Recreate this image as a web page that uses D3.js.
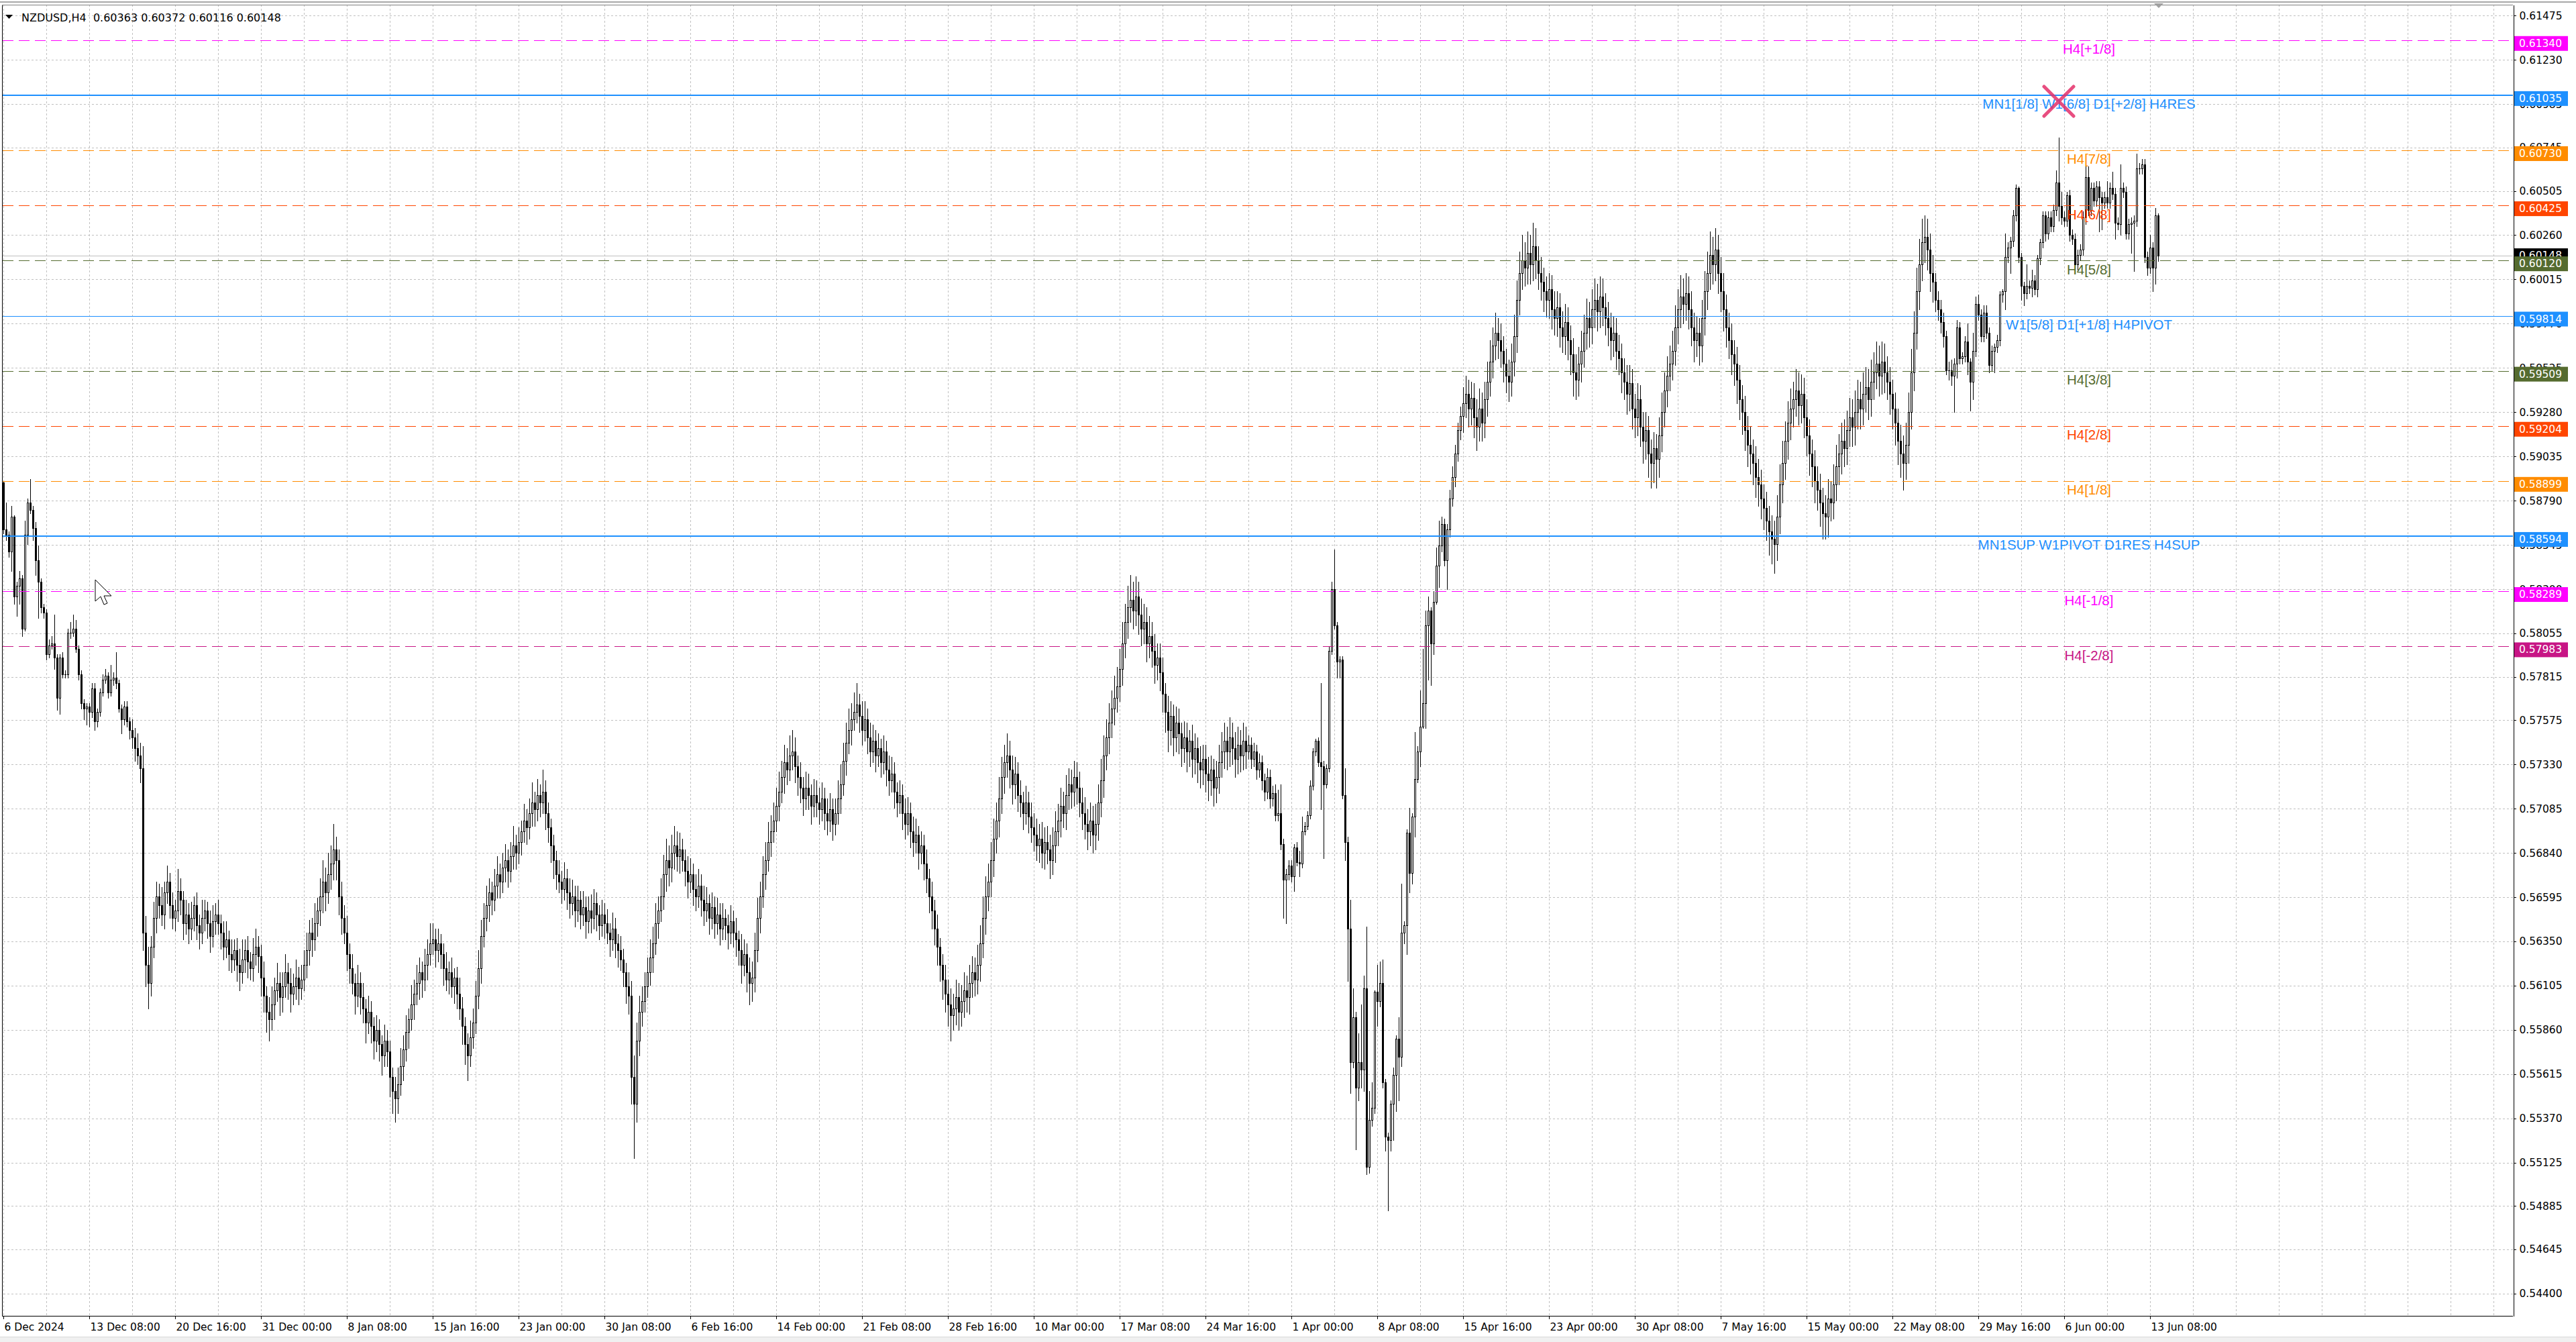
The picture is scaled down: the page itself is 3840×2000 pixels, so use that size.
<!DOCTYPE html>
<html><head><meta charset="utf-8">
<script src="https://cdn.jsdelivr.net/npm/d3@7/dist/d3.min.js"></script>
<style>html,body{margin:0;padding:0;background:#fff;}svg{display:block;}</style>
</head><body>
<svg id="chart" width="3840" height="2000"></svg>
<script>
// ---------------- DATA ----------------
const symbolTitle = "NZDUSD,H4";
const headerValues = ["0.60363", "0.60372", "0.60116", "0.60148"];
const firstOpen = 5889; // pips (x 1e-4)
// H4 closes in pips, one row = 16 bars
const closes = [
5863,5860,5851,5870,5826,5832,5836,5808,5860,5878,5874,5864,5846,5834,5820,5817,
5794,5799,5800,5792,5770,5792,5783,5783,5806,5806,5808,5797,5783,5767,5764,5765,
5762,5775,5757,5762,5773,5780,5782,5773,5780,5781,5778,5764,5758,5765,5757,5752,
5748,5742,5738,5731,5640,5622,5612,5632,5648,5660,5655,5650,5662,5668,5655,5648,
5652,5663,5658,5645,5650,5642,5648,5655,5644,5640,5648,5652,5645,5638,5646,5650,
5645,5640,5632,5636,5628,5625,5630,5622,5618,5625,5630,5624,5620,5628,5632,5627,
5615,5605,5596,5592,5600,5608,5612,5604,5610,5618,5612,5606,5610,5615,5609,5614,
5622,5630,5640,5636,5645,5652,5660,5668,5662,5672,5678,5686,5680,5660,5648,5640,
5628,5620,5612,5605,5612,5604,5598,5590,5596,5588,5580,5586,5578,5572,5580,5574,
5560,5552,5548,5556,5566,5575,5585,5592,5600,5606,5612,5618,5614,5622,5628,5634,
5636,5630,5634,5628,5620,5614,5618,5610,5615,5606,5598,5588,5578,5572,5582,5590,
5605,5620,5638,5648,5655,5662,5658,5666,5672,5668,5676,5680,5674,5682,5688,5684,
5690,5696,5702,5698,5706,5712,5708,5716,5712,5718,5706,5698,5688,5680,5672,5668,
5664,5670,5662,5656,5660,5652,5658,5650,5654,5646,5652,5648,5656,5650,5644,5650,
5645,5640,5636,5642,5634,5630,5625,5618,5610,5605,5560,5545,5580,5596,5602,5610,
5618,5626,5634,5645,5652,5660,5672,5680,5676,5684,5688,5682,5686,5680,5674,5668,
5672,5664,5660,5666,5658,5652,5656,5648,5654,5645,5650,5642,5648,5644,5640,5646,
5640,5636,5630,5622,5628,5618,5612,5615,5630,5648,5660,5672,5680,5690,5696,5702,
5710,5718,5726,5734,5730,5738,5740,5732,5726,5720,5714,5720,5716,5710,5716,5712,
5708,5714,5706,5702,5708,5700,5706,5714,5722,5735,5745,5752,5758,5762,5766,5760,
5752,5758,5748,5740,5746,5738,5742,5734,5740,5730,5724,5728,5718,5712,5716,5706,
5700,5706,5696,5690,5694,5684,5688,5678,5670,5660,5652,5642,5632,5622,5614,5606,
5600,5594,5598,5604,5596,5602,5608,5604,5612,5618,5614,5622,5634,5648,5660,5668,
5680,5692,5702,5714,5726,5734,5738,5730,5722,5728,5716,5712,5706,5712,5704,5698,
5694,5688,5692,5684,5690,5686,5680,5688,5696,5702,5710,5706,5716,5722,5718,5726,
5720,5712,5706,5700,5696,5702,5694,5700,5712,5724,5738,5748,5756,5764,5770,5776,
5786,5800,5812,5820,5824,5818,5826,5816,5808,5812,5800,5804,5796,5788,5792,5784,
5772,5762,5752,5760,5748,5756,5750,5742,5748,5740,5746,5736,5742,5734,5730,5736,
5728,5724,5730,5720,5726,5734,5740,5746,5740,5748,5742,5736,5744,5738,5746,5740,
5744,5736,5740,5730,5734,5724,5718,5726,5714,5717,5705,5706,5689,5669,5672,5677,
5671,5687,5679,5678,5696,5699,5705,5721,5740,5746,5734,5732,5722,5731,5796,5830,
5810,5790,5791,5716,5690,5642,5568,5593,5554,5568,5564,5609,5510,5536,5543,5607,
5602,5612,5557,5527,5525,5545,5561,5581,5571,5640,5644,5695,5673,5704,5725,5740,
5754,5767,5810,5818,5800,5823,5843,5854,5866,5846,5863,5880,5892,5905,5918,5926,
5933,5938,5930,5936,5925,5920,5930,5922,5935,5945,5956,5965,5972,5968,5962,5955,
5948,5945,5956,5970,5990,6005,6012,6008,6016,6010,6020,6012,6005,6000,5995,5990,
5996,5985,5980,5986,5975,5970,5978,5968,5960,5950,5946,5955,5962,5972,5980,5975,
5985,5990,5984,5992,5986,5980,5975,5968,5972,5962,5958,5950,5945,5938,5944,5930,
5925,5935,5920,5912,5918,5905,5900,5908,5902,5915,5928,5940,5948,5955,5962,5975,
5985,5992,5988,5994,5985,5975,5968,5972,5965,5980,5995,6005,6015,6010,6018,6005,
5995,5985,5975,5968,5960,5955,5946,5935,5928,5918,5910,5905,5900,5892,5888,5880,
5875,5868,5862,5858,5855,5870,5888,5900,5912,5922,5930,5935,5940,5932,5938,5925,
5915,5905,5898,5890,5885,5878,5872,5870,5880,5878,5888,5898,5905,5912,5908,5918,
5925,5920,5928,5935,5930,5938,5942,5935,5945,5950,5955,5948,5956,5950,5945,5938,
5930,5922,5912,5905,5900,5910,5928,5950,5972,5995,6010,6022,6025,6018,6005,6000,
5990,5985,5978,5970,5951,5951,5948,5955,5975,5958,5959,5967,5956,5945,5962,5988,
5982,5970,5983,5972,5954,5962,5964,5968,5993,5995,6014,6019,6023,6037,6052,6014,
5998,5994,5998,5997,6001,5996,6013,6022,6037,6027,6036,6031,6040,6055,6042,6036,
6034,6048,6026,6024,6010,6015,6018,6036,6058,6040,6052,6045,6053,6047,6044,6047,
6044,6052,6049,6033,6032,6052,6050,6027,6032,6033,6034,6063,6063,6065,6014,6008,
6019,6008,6037,6014.8
];
// upper wick length above the body, pips
const wickUp = [
1,15,2,6,1,2,4,2,8,2,13,2,3,8,2,2,
2,3,4,16,2,2,3,2,2,6,8,5,2,2,2,2,
2,3,3,2,2,3,4,2,8,3,14,2,2,3,3,2,
6,5,8,7,12,9,10,6,9,8,7,10,6,9,5,7,
6,12,7,5,8,6,9,5,7,6,10,6,5,7,9,6,
8,5,6,10,5,8,6,7,9,11,6,8,5,9,10,6,
6,9,5,8,10,7,11,6,8,10,5,8,7,10,6,8,
8,10,7,8,11,7,10,12,8,12,10,14,7,6,8,7,
9,6,8,5,10,6,8,5,9,6,5,8,6,5,9,6,
6,5,8,9,10,8,9,6,11,8,10,8,6,9,8,11,
9,6,8,5,6,9,6,8,5,6,9,6,5,6,9,8,
8,10,9,8,11,8,6,9,10,6,8,9,6,8,11,6,
8,6,9,6,8,11,6,9,6,12,6,6,5,6,5,8,
6,9,5,8,9,6,8,5,9,6,8,9,8,6,5,8,
6,8,5,9,6,5,8,6,5,8,8,12,10,9,8,8,
8,10,9,11,8,10,11,12,8,10,11,8,9,6,6,8,
9,6,8,9,6,8,9,5,8,6,9,6,8,5,6,9,
6,8,5,9,8,6,8,9,10,11,8,10,10,11,9,10,
10,11,9,10,8,11,12,8,6,8,6,9,8,6,9,8,
8,9,6,8,9,6,8,10,11,10,11,12,9,11,12,6,
8,10,6,8,9,6,8,5,9,6,8,9,6,5,8,6,
8,9,6,8,9,5,8,6,8,5,8,6,8,5,6,8,
8,9,8,10,8,9,10,8,10,9,8,11,10,12,11,10,
10,11,10,12,11,10,12,8,8,9,6,8,6,9,6,8,
8,9,8,9,8,9,8,10,11,9,10,8,11,9,8,9,
8,9,8,9,8,10,8,11,10,12,11,10,11,10,12,11,
11,12,10,12,14,10,11,8,9,10,8,11,8,9,8,8,
8,6,9,8,6,9,8,6,9,8,6,9,8,6,9,8,
8,9,8,6,9,10,11,10,8,11,8,9,10,8,10,8,
5,4,5,4,5,4,4,5,4,4,5,13,16,3,3,3,
3,2,3,6,8,2,2,3,2,1,2,44,3,2,2,4,
22,2,2,2,15,3,16,16,3,16,32,7,34,16,14,1,
15,12,13,2,2,2,4,2,12,27,2,2,14,2,26,3,
20,30,8,8,2,6,10,14,4,3,3,5,6,5,4,5,
9,10,8,9,8,10,11,9,10,11,12,10,11,8,9,8,
8,9,10,12,11,12,14,10,12,10,13,10,8,9,8,8,
9,8,10,9,8,9,10,8,8,9,10,9,11,10,11,9,
11,12,9,11,10,8,9,8,9,8,9,8,8,9,10,8,
8,9,8,8,10,8,8,9,8,10,11,10,11,10,11,12,
11,12,10,11,9,10,8,9,8,10,11,12,13,10,12,8,
9,10,8,8,9,8,9,8,8,9,8,10,8,9,10,8,
8,9,8,9,10,12,11,12,11,12,11,10,12,10,11,9,
10,9,8,9,8,9,8,10,11,10,11,12,11,10,12,11,
11,10,12,11,10,12,11,10,12,11,12,10,11,10,9,8,
8,9,8,9,10,12,11,13,12,13,14,13,12,10,9,10,
5,5,5,5,3,5,6,3,4,3,2,3,10,2,10,4,
5,3,4,4,3,3,2,3,2,1,13,3,2,3,2,1,
2,2,12,3,6,3,2,2,2,2,3,3,3,7,25,8,
3,2,3,3,3,3,3,3,6,6,3,3,3,3,3,3,
9,3,9,3,3,13,3,3,3,3,3,8,3,3,3,3,
7,3,4,1
];
// lower wick length below the body, pips
const wickDn = [
2,3,3,11,4,11,10,4,1,5,2,7,8,20,3,3,
3,2,2,6,7,9,2,2,2,3,2,2,3,3,6,9,
8,3,5,3,2,2,2,3,2,3,3,2,8,3,3,5,
6,7,5,8,10,12,14,7,6,8,7,6,8,6,7,6,
7,6,8,9,6,8,6,7,8,9,6,7,8,9,6,7,
6,9,7,6,9,7,6,9,10,6,7,9,6,7,6,9,
10,9,11,12,6,8,6,10,8,6,9,10,6,7,9,6,
6,7,8,9,6,7,8,9,10,6,8,9,11,10,9,6,
9,8,6,10,6,9,8,11,6,9,10,6,9,11,6,8,
11,12,13,8,6,8,6,9,6,8,6,9,10,6,8,6,
6,9,6,8,9,6,8,6,9,8,6,10,11,14,6,6,
6,7,8,6,7,9,8,6,7,9,6,8,9,6,7,9,
6,7,6,9,6,7,9,6,8,6,9,8,9,10,8,6,
8,6,9,8,6,9,6,8,6,9,6,8,6,9,8,6,
8,6,9,6,8,9,6,8,9,10,15,30,10,8,8,6,
6,7,8,6,8,6,7,9,10,8,9,8,9,6,8,9,
6,9,8,6,9,8,6,9,6,8,6,9,6,8,9,6,
8,9,8,10,6,11,12,10,8,6,8,6,8,6,8,6,
6,8,6,9,8,6,8,9,10,8,9,6,8,10,6,8,
8,6,9,8,6,9,6,6,8,6,8,6,8,6,6,9,
8,6,9,8,6,9,6,8,6,9,8,6,9,8,6,9,
8,6,9,8,6,9,6,9,8,9,10,9,10,9,11,10,
12,14,8,9,10,8,9,8,9,8,9,8,9,8,9,8,
8,9,8,9,8,9,8,10,11,8,9,8,9,6,9,8,
9,8,9,8,9,8,10,8,9,8,9,8,9,8,9,8,
9,8,9,8,10,8,10,8,9,8,9,8,9,8,9,8,
8,9,8,9,8,10,8,11,9,8,10,8,9,10,8,10,
10,11,12,8,10,8,11,10,8,11,8,10,8,11,10,8,
10,11,8,10,8,9,8,9,10,8,9,10,8,9,8,9,
4,5,4,5,4,5,5,4,5,4,3,3,3,21,24,3,
3,8,2,7,2,2,2,2,2,2,2,24,41,2,2,2,
2,9,9,2,10,29,17,3,34,7,10,12,4,3,3,3,
14,3,3,8,39,6,20,20,24,5,6,16,11,6,11,2,
8,1,14,30,23,6,1,12,3,3,16,4,4,5,4,5,
9,8,10,9,11,13,8,10,8,9,8,9,8,10,9,10,
9,11,8,8,9,8,9,10,9,11,9,10,9,10,11,9,
10,11,9,10,11,9,10,11,11,13,11,9,10,9,9,11,
9,10,11,9,10,9,10,11,9,10,9,11,10,11,9,11,
11,10,11,12,10,13,14,11,16,10,9,8,9,8,9,8,
9,10,11,9,11,10,12,9,11,9,9,10,9,11,9,11,
11,12,11,10,11,12,13,11,12,11,12,11,12,11,12,11,
12,11,13,14,16,9,9,10,9,10,9,10,9,11,10,11,
11,12,11,12,11,13,14,12,11,10,9,9,10,11,10,9,
9,11,10,9,11,9,10,11,9,10,9,11,10,11,10,11,
11,12,13,13,15,9,10,9,10,9,10,9,11,11,10,11,
6,6,6,6,2,5,5,20,8,3,3,3,7,16,10,3,
3,3,3,3,4,3,12,3,3,4,10,3,14,3,3,3,
8,7,3,3,5,3,4,3,3,4,3,3,3,3,8,4,
3,3,3,3,5,3,3,3,4,3,3,3,3,19,15,3,
3,3,3,9,3,6,3,3,3,16,27,3,3,3,3,4,
3,13,9,3
];
const timeLabels = ["6 Dec 2024","13 Dec 08:00","20 Dec 16:00","31 Dec 00:00","8 Jan 08:00","15 Jan 16:00",
"23 Jan 00:00","30 Jan 08:00","6 Feb 16:00","14 Feb 00:00","21 Feb 08:00","28 Feb 16:00","10 Mar 00:00",
"17 Mar 08:00","24 Mar 16:00","1 Apr 00:00","8 Apr 08:00","15 Apr 16:00","23 Apr 00:00","30 Apr 08:00",
"7 May 16:00","15 May 00:00","22 May 08:00","29 May 16:00","6 Jun 00:00","13 Jun 08:00"];
const barsPerTimeLabel = 32;
const priceTicks = [0.61475,0.61230,0.60985,0.60745,0.60505,0.60260,0.60015,0.59770,0.59525,0.59280,
0.59035,0.58790,0.58545,0.58300,0.58055,0.57815,0.57575,0.57330,0.57085,0.56840,0.56595,0.56350,
0.56105,0.55860,0.55615,0.55370,0.55125,0.54885,0.54645,0.54400];
const levelPrices = [0.61340,0.61035,0.60730,0.60425,0.60120,0.59814,0.59509,0.59204,0.58899,0.58594,0.58289,0.57983];
const levelNames = ["H4[+1/8]","MN1[1/8] W1[6/8] D1[+2/8] H4RES","H4[7/8]","H4[6/8]","H4[5/8]",
"W1[5/8] D1[+1/8] H4PIVOT","H4[3/8]","H4[2/8]","H4[1/8]","MN1SUP W1PIVOT D1RES H4SUP","H4[-1/8]","H4[-2/8]"];
const levelKinds = ["m+1","major","m7","m6","m5","pivot","m3","m2","m1","major","m-1","m-2"];
const bidPrice = 0.60148;

// ---------------- STYLES ----------------
const kindStyle = {
  "m+1":  {color:"#FF00FF", width:1, dash:"16,8"},
  "major":{color:"#1E90FF", width:2, dash:null},
  "m7":   {color:"#FF8C00", width:1, dash:"16,8"},
  "m6":   {color:"#FF4500", width:1, dash:"16,8"},
  "m5":   {color:"#556B2F", width:1, dash:"16,8"},
  "pivot":{color:"#1E90FF", width:1, dash:null},
  "m3":   {color:"#556B2F", width:1, dash:"16,8"},
  "m2":   {color:"#FF4500", width:1, dash:"16,8"},
  "m1":   {color:"#FF8C00", width:1, dash:"16,8"},
  "m-1":  {color:"#FF00FF", width:1, dash:"16,8"},
  "m-2":  {color:"#C71585", width:1, dash:"16,8"}
};
const axisFont = "'DejaVu Sans', Verdana, sans-serif";
const labelFont = "'Liberation Sans', Arial, sans-serif";

// ---------------- SCALES ----------------
const L = 3, T = 7, R = 3746, B = 1961;
const x = d3.scaleLinear().domain([0, 935.25]).range([5, R]);
const y = d3.scaleLinear().domain([0.54277, 0.61536]).range([B, T]);
const py = v => y(v / 10000);

const svg = d3.select("#chart");
svg.append("rect").attr("width",3840).attr("height",2000).attr("fill","#fff");

// window strips
svg.append("rect").attr("x",0).attr("y",1992).attr("width",3840).attr("height",8).attr("fill","#F0F0F0");
svg.append("line").attr("x1",0).attr("x2",3840).attr("y1",1992.5).attr("y2",1992.5).attr("stroke","#D8D8D8");
svg.append("line").attr("x1",0).attr("x2",3840).attr("y1",3).attr("y2",3).attr("stroke","#A8A8A8").attr("stroke-width",2);

const gGrid = svg.append("g").attr("shape-rendering","crispEdges");
gGrid.selectAll("line.h").data(priceTicks).join("line")
  .attr("x1", L+2).attr("x2", R).attr("y1", d=>Math.round(y(d))+0.5).attr("y2", d=>Math.round(y(d))+0.5)
  .attr("stroke","#C0C0C0").attr("stroke-dasharray","3,3");
const vIdx = d3.range(0, 935, 16);
gGrid.selectAll("line.v").data(vIdx).join("line")
  .attr("x1", d=>Math.round(x(d))+0.5).attr("x2", d=>Math.round(x(d))+0.5).attr("y1", T).attr("y2", B)
  .attr("stroke","#C0C0C0").attr("stroke-dasharray","3,3");

// bid line
svg.append("line").attr("x1",L).attr("x2",R).attr("y1",Math.round(y(bidPrice))+0.5).attr("y2",Math.round(y(bidPrice))+0.5)
  .attr("stroke","#C0C0C0").attr("shape-rendering","crispEdges");

// ---------------- CANDLES ----------------
const bars = closes.map((c,i)=>{
  const o = i===0 ? firstOpen : closes[i-1];
  return {i, o, c, h: Math.max(o,c)+wickUp[i], l: Math.min(o,c)-wickDn[i]};
});
const gC = svg.append("g").attr("shape-rendering","crispEdges");
bars.forEach(b=>{
  const cx = Math.round(x(b.i));
  const yh = Math.round(py(b.h)), yl = Math.round(py(b.l));
  gC.append("rect").attr("x",cx).attr("y",yh).attr("width",1).attr("height",Math.max(1,yl-yh+1)).attr("fill","#000");
  const yt = Math.round(py(Math.max(b.o,b.c))), yb = Math.round(py(Math.min(b.o,b.c)));
  if (b.c < b.o) {
    gC.append("rect").attr("x",cx-1).attr("y",yt).attr("width",3).attr("height",Math.max(1,yb-yt+1)).attr("fill","#000");
  } else if (yb - yt >= 2) {
    gC.append("rect").attr("x",cx-0.5).attr("y",yt+0.5).attr("width",2).attr("height",yb-yt)
      .attr("fill","#fff").attr("stroke","#000").attr("stroke-width",1);
  } else {
    gC.append("rect").attr("x",cx-1).attr("y",yt).attr("width",3).attr("height",1).attr("fill","#000");
  }
});

// ---------------- LEVEL LINES ----------------
const gL = svg.append("g");
levelPrices.forEach((p,k)=>{
  const st = kindStyle[levelKinds[k]];
  const yy = st.width===2 ? Math.round(y(p)) : Math.round(y(p))+0.5;
  gL.append("line").attr("x1",L+1).attr("x2",R).attr("y1",yy).attr("y2",yy)
    .attr("stroke",st.color).attr("stroke-width",st.width).attr("shape-rendering","crispEdges")
    .attr("stroke-dasharray",st.dash);
  gL.append("text").attr("x",3114).attr("y",y(p)+20.5).attr("text-anchor","middle")
    .attr("font-family",labelFont).attr("font-size","20.5px").attr("fill",st.color).text(levelNames[k]);
});

// red X marker
const gX = svg.append("g").attr("stroke","#E4306A").attr("stroke-width",5).attr("stroke-linecap","round").attr("opacity",0.85);
gX.append("line").attr("x1",3047).attr("y1",129).attr("x2",3091).attr("y2",173);
gX.append("line").attr("x1",3091).attr("y1",129).attr("x2",3047).attr("y2",173);

// ---------------- AXES ----------------
svg.append("line").attr("x1",L+0.5).attr("x2",L+0.5).attr("y1",T).attr("y2",B).attr("stroke","#000").attr("shape-rendering","crispEdges");
svg.append("line").attr("x1",L).attr("x2",R).attr("y1",T+0.5).attr("y2",T+0.5).attr("stroke","#808080").attr("shape-rendering","crispEdges");

const yAxis = d3.axisRight(y).tickValues(priceTicks).tickSize(4).tickSizeOuter(0).tickPadding(5)
  .tickFormat(d3.format(".5f"));
const gy = svg.append("g").attr("transform",`translate(${R+0.5},0)`).call(yAxis);
gy.select(".domain").attr("stroke","#000").attr("shape-rendering","crispEdges");
gy.selectAll(".tick line").attr("stroke","#000").attr("shape-rendering","crispEdges");
gy.selectAll(".tick text").attr("font-family",axisFont).attr("font-size","15.5px").attr("fill","#000");

const xTickIdx = timeLabels.map((_,k)=>k*barsPerTimeLabel);
const xAxis = d3.axisBottom(x).tickValues(xTickIdx).tickSize(4).tickSizeOuter(0).tickPadding(6)
  .tickFormat((d,k)=>timeLabels[k]);
const gx = svg.append("g").attr("transform",`translate(0,${B+0.5})`).call(xAxis);
gx.select(".domain").attr("stroke","#000").attr("shape-rendering","crispEdges").attr("d",`M${L},0H${R}`);
gx.selectAll(".tick line").attr("stroke","#000").attr("shape-rendering","crispEdges");
gx.selectAll(".tick text").attr("font-family",axisFont).attr("font-size","15.5px").attr("fill","#000")
  .attr("text-anchor","start").attr("x",1);

// price label boxes on the right axis
const gBox = svg.append("g");
function priceBox(p, fill, offset){
  const yy = y(p);
  gBox.append("rect").attr("x",R+2).attr("y",yy-offset).attr("width",80).attr("height",22).attr("fill",fill);
  gBox.append("text").attr("x",R+9).attr("y",yy-offset+11).attr("dominant-baseline","central")
    .attr("font-family",axisFont).attr("font-size","15.5px").attr("fill","#fff").text(d3.format(".5f")(p));
}
priceBox(bidPrice, "#000", 10.5);
levelPrices.forEach((p,k)=>priceBox(p, kindStyle[levelKinds[k]].color, 6));

// header
svg.append("path").attr("d","M8,22 L19,22 L13.5,28 Z").attr("fill","#000");
svg.append("text").attr("x",32).attr("y",32).attr("font-family",axisFont).attr("font-size","16px").attr("fill","#000")
  .attr("xml:space","preserve").text(symbolTitle + "  " + headerValues.join(" "));

// chart shift marker
svg.append("path").attr("d","M3211,5 L3225,5 L3218,12 Z").attr("fill","#A0A0A0");

// mouse pointer
svg.append("path").attr("transform","translate(142,864)")
  .attr("d","M0,0 L0,32 L8,25 L13,37 L18,35 L13,24 L24,24 Z").attr("fill","#fff").attr("stroke","#000").attr("stroke-width",1);
</script>
</body></html>
